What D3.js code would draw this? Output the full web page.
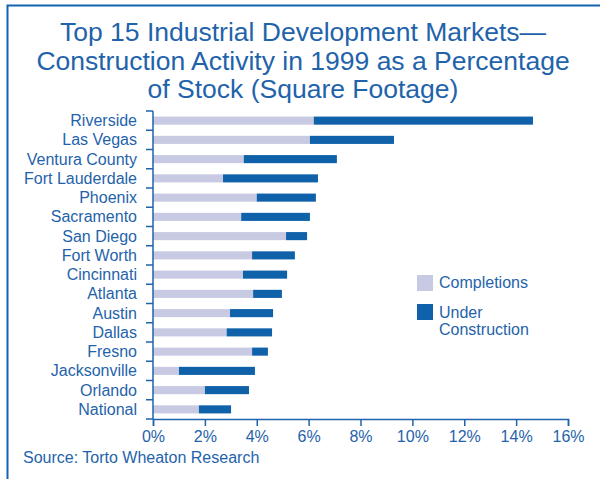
<!DOCTYPE html>
<html>
<head>
<meta charset="utf-8">
<script src="https://cdn.jsdelivr.net/npm/d3@7"></script>
<style>
  body { margin: 0; background: #fff; }
  svg { display: block; font-family: "Liberation Sans", Arial, sans-serif; }
</style>
</head>
<body>
<script>
// markets, top to bottom
const markets = [
  'Riverside', 'Las Vegas', 'Ventura County', 'Fort Lauderdale', 'Phoenix',
  'Sacramento', 'San Diego', 'Fort Worth', 'Cincinnati', 'Atlanta',
  'Austin', 'Dallas', 'Fresno', 'Jacksonville', 'Orlando', 'National'
];
// % of stock completed in 1999
const completions = [6.2, 6.05, 3.5, 2.7, 4.0, 3.4, 5.13, 3.82, 3.47, 3.86, 2.97, 2.84, 3.82, 1.0, 2.0, 1.77];
// % of stock still under construction
const underConstruction = [8.45, 3.24, 3.59, 3.66, 2.28, 2.65, 0.81, 1.65, 1.7, 1.11, 1.66, 1.75, 0.61, 2.93, 1.7, 1.24];
const seriesNames = ['Completions', 'Under Construction'];
const xTicks = [0, 2, 4, 6, 8, 10, 12, 14, 16];
const titleLines = [
  'Top 15 Industrial Development Markets\u2014',
  'Construction Activity in 1999 as a Percentage',
  'of Stock (Square Footage)'
];

const width = 600;
const height = 479;
const blue = '#1f63ab';
const colors = ['#c8cae3', '#0f61aa'];

const svg = d3.select('body')
  .append('svg')
  .attr('width', width)
  .attr('height', height);

// frame (left + top edges visible)
svg.append('path')
  .attr('d', `M7.5,${height} V5.5 H${width}`)
  .attr('fill', 'none')
  .attr('stroke', '#1562ad')
  .attr('stroke-width', 2);

// title
svg.append('g')
  .selectAll('text')
  .data(titleLines)
  .join('text')
  .attr('x', 303)
  .attr('y', (d, i) => 41 + i * 28.5)
  .attr('text-anchor', 'middle')
  .attr('font-size', 26.5)
  .attr('fill', blue)
  .text(d => d);

const x = d3.scaleLinear().domain([0, 16]).range([153, 568]);
const y = d3.scaleBand().domain(markets).range([111, 419]).paddingInner(0.58).paddingOuter(0.29);

const rows = markets.map((m, i) => ({
  market: m,
  values: [completions[i], underConstruction[i]]
}));
const stack = rows.map(r => {
  let acc = 0;
  return r.values.map((v, k) => {
    const seg = { market: r.market, x0: acc, x1: acc + v, k };
    acc += v;
    return seg;
  });
}).flat();

svg.append('g')
  .selectAll('rect')
  .data(stack)
  .join('rect')
  .attr('x', d => x(d.x0))
  .attr('y', d => y(d.market))
  .attr('width', d => x(d.x1) - x(d.x0))
  .attr('height', y.bandwidth())
  .attr('fill', d => colors[d.k]);

// y axis: line with ticks at category boundaries
const yAxis = svg.append('g');
yAxis.append('line')
  .attr('x1', 153).attr('x2', 153)
  .attr('y1', 111).attr('y2', 419)
  .attr('stroke', blue).attr('stroke-width', 1.5);
const step = y.step();
yAxis.selectAll('line.tick')
  .data(d3.range(markets.length + 1))
  .join('line')
  .attr('class', 'tick')
  .attr('x1', 146).attr('x2', 153)
  .attr('y1', i => 111 + i * step)
  .attr('y2', i => 111 + i * step)
  .attr('stroke', blue).attr('stroke-width', 1.5);
yAxis.selectAll('text')
  .data(markets)
  .join('text')
  .attr('x', 137)
  .attr('y', d => y(d) + y.bandwidth() / 2)
  .attr('dy', '0.35em')
  .attr('text-anchor', 'end')
  .attr('font-size', 16)
  .attr('fill', blue)
  .text(d => d);

// x axis
const xAxis = svg.append('g')
  .attr('transform', 'translate(0,419)')
  .call(d3.axisBottom(x).tickValues(xTicks).tickFormat(d => d + '%').tickSize(7).tickPadding(5));
xAxis.select('.domain').attr('stroke', blue).attr('stroke-width', 1.5);
xAxis.selectAll('.tick line').attr('stroke', blue).attr('stroke-width', 1.5);
xAxis.selectAll('.tick text')
  .attr('fill', blue)
  .attr('font-size', 16)
  .attr('font-family', '"Liberation Sans", Arial, sans-serif');

// legend
const legend = svg.append('g');
legend.selectAll('rect')
  .data(seriesNames)
  .join('rect')
  .attr('x', 417)
  .attr('y', (d, i) => 275 + i * 29)
  .attr('width', 16)
  .attr('height', 16)
  .attr('fill', (d, i) => colors[i]);
legend.append('text')
  .attr('x', 439).attr('y', 288)
  .attr('font-size', 16).attr('fill', blue)
  .text(seriesNames[0]);
legend.append('text')
  .attr('x', 439).attr('y', 318)
  .attr('font-size', 16).attr('fill', blue)
  .selectAll('tspan')
  .data(seriesNames[1].split(' '))
  .join('tspan')
  .attr('x', 439)
  .attr('dy', (d, i) => i === 0 ? 0 : 17)
  .text(d => d);

// source note
svg.append('text')
  .attr('x', 23).attr('y', 463)
  .attr('font-size', 16).attr('fill', blue)
  .text('Source: Torto Wheaton Research');
</script>
</body>
</html>
